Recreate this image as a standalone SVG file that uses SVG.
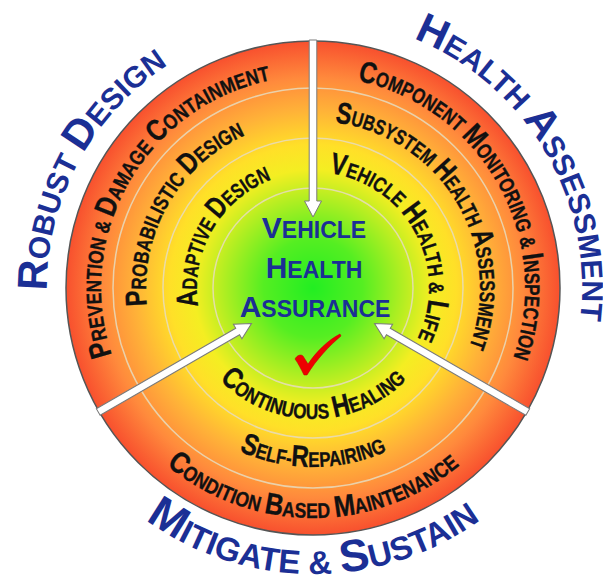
<svg xmlns="http://www.w3.org/2000/svg" width="603" height="583" viewBox="0 0 603 583">
<style>
.rt{font-family:"Liberation Sans",Arial,sans-serif;font-weight:bold;font-size:21px;fill:#111;stroke:#111;stroke-width:0.35}
.rt .b{font-size:30px}
.ol{font-family:"Liberation Sans",Arial,sans-serif;font-weight:bold;font-size:30px;fill:#1b2f95}
.ol .b{font-size:42px}
.ct{font-family:"Liberation Sans",Arial,sans-serif;font-weight:bold;font-size:23px;fill:#1b2f95;text-anchor:middle}
.ct .b{font-size:30px}
.ring{fill:none;stroke:#e6dcc0;stroke-width:1.5;opacity:0.85}
.arrow{fill:#fff;stroke:#7a7a7a;stroke-width:1}
</style>
<defs>
<radialGradient id="disc" cx="313" cy="288" r="247" gradientUnits="userSpaceOnUse">
<stop offset="0" stop-color="#22ee22"/>
<stop offset="0.2" stop-color="#55ee22"/>
<stop offset="0.38" stop-color="#bbee22"/>
<stop offset="0.48" stop-color="#f4ee22"/>
<stop offset="0.58" stop-color="#ffe028"/>
<stop offset="0.72" stop-color="#ffb238"/>
<stop offset="0.85" stop-color="#ff8a3c"/>
<stop offset="1" stop-color="#f8502e"/>
</radialGradient>
<path id="pL1" d="M129.4,394 A212,212 0 0 1 313,76"/>
<path id="pL2" d="M168.4,371.5 A167,167 0 0 1 313,121"/>
<path id="pL3" d="M212.5,346 A116,116 0 0 1 313,172"/>
<path id="pLo" d="M82.6,421 A266,266 0 0 1 313,22"/>
<path id="pR1" d="M313,76 A212,212 0 0 1 496.6,394"/>
<path id="pR2" d="M313,121 A167,167 0 0 1 457.6,371.5"/>
<path id="pR3" d="M313,172 A116,116 0 0 1 413.5,346"/>
<path id="pRo" d="M313,19 A269,269 0 0 1 546,422.5"/>
<path id="pB1" d="M113.8,403 A230,230 0 0 0 512.2,403"/>
<path id="pB2" d="M158,377.5 A179,179 0 0 0 468,377.5"/>
<path id="pB3" d="M199.6,353.5 A131,131 0 0 0 426.4,353.5"/>
<path id="pBo" d="M65.3,431 A286,286 0 0 0 560.7,431"/>
<path id="arr" d="M-3.8,-248 L3.8,-248 L3.8,-87 L8.5,-87 L0,-71 L-8.5,-87 L-3.8,-87 Z"/>
</defs>

<g id="disc-base">
<circle cx="313" cy="288" r="247" fill="url(#disc)" stroke="#555" stroke-width="1.5"/>
<circle class="ring" cx="313" cy="288" r="200"/>
<circle class="ring" cx="313" cy="288" r="150"/>
<circle class="ring" cx="313" cy="288" r="100"/>
</g>

<g id="connectors">
<use href="#arr" class="arrow" transform="translate(313,288)"/>
<use href="#arr" class="arrow" transform="translate(313,288) rotate(120)"/>
<use href="#arr" class="arrow" transform="translate(313,288) rotate(-120)"/>
</g>

<g id="hub">
<text class="ct" x="314" y="238"><tspan class="b">V</tspan>EHICLE</text>
<text class="ct" x="314" y="278"><tspan class="b">H</tspan>EALTH</text>
<text class="ct" x="315" y="317"><tspan class="b">A</tspan>SSURANCE</text>
<path d="M295,359 C297,355 301,354 303,356 L308,364 C316,352 328,340 340,334 L341,336 C330,345 316,360 307,375 L304,375 C301,369 298,363 295,359 Z" fill="#ee0000" stroke="#b00" stroke-width="0.5"/>
</g>

<g id="robust-design">
<text class="ol"><textPath href="#pLo" startOffset="48.5%" text-anchor="middle"><tspan class="b">R</tspan>OBUST <tspan class="b">D</tspan>ESIGN</textPath></text>
<text class="rt"><textPath href="#pL1" startOffset="50%" text-anchor="middle" textLength="358" lengthAdjust="spacingAndGlyphs"><tspan class="b">P</tspan>REVENTION &amp; <tspan class="b">D</tspan>AMAGE <tspan class="b">C</tspan>ONTAINMENT</textPath></text>
<text class="rt"><textPath href="#pL2" startOffset="50%" text-anchor="middle" textLength="210" lengthAdjust="spacingAndGlyphs"><tspan class="b">P</tspan>ROBABILISTIC <tspan class="b">D</tspan>ESIGN</textPath></text>
<text class="rt"><textPath href="#pL3" startOffset="50%" text-anchor="middle" textLength="158" lengthAdjust="spacingAndGlyphs"><tspan class="b">A</tspan>DAPTIVE <tspan class="b">D</tspan>ESIGN</textPath></text>
</g>

<g id="health-assessment">
<text class="ol"><textPath href="#pRo" startOffset="49.5%" text-anchor="middle"><tspan class="b">H</tspan>EALTH <tspan class="b">A</tspan>SSESSMENT</textPath></text>
<text class="rt"><textPath href="#pR1" startOffset="50.5%" text-anchor="middle" textLength="359" lengthAdjust="spacingAndGlyphs"><tspan class="b">C</tspan>OMPONENT <tspan class="b">M</tspan>ONITORING &amp; <tspan class="b">I</tspan>NSPECTION</textPath></text>
<text class="rt"><textPath href="#pR2" startOffset="49.2%" text-anchor="middle" textLength="300" lengthAdjust="spacingAndGlyphs"><tspan class="b">S</tspan>UBSYSTEM <tspan class="b">H</tspan>EALTH <tspan class="b">A</tspan>SSESSMENT</textPath></text>
<text class="rt"><textPath href="#pR3" startOffset="51.5%" text-anchor="middle" textLength="218" lengthAdjust="spacingAndGlyphs"><tspan class="b">V</tspan>EHICLE <tspan class="b">H</tspan>EALTH &amp; <tspan class="b">L</tspan>IFE</textPath></text>
</g>

<g id="mitigate-sustain">
<text class="ol" style="font-size:33px"><textPath href="#pBo" startOffset="50%" text-anchor="middle"><tspan class="b" style="font-size:45px">M</tspan>ITIGATE &amp; <tspan class="b" style="font-size:45px">S</tspan>USTAIN</textPath></text>
<text class="rt"><textPath href="#pB1" startOffset="50%" text-anchor="middle" textLength="318" lengthAdjust="spacingAndGlyphs"><tspan class="b">C</tspan>ONDITION <tspan class="b">B</tspan>ASED <tspan class="b">M</tspan>AINTENANCE</textPath></text>
<text class="rt"><textPath href="#pB2" startOffset="50%" text-anchor="middle" textLength="152" lengthAdjust="spacingAndGlyphs"><tspan class="b">S</tspan>ELF-<tspan class="b">R</tspan>EPAIRING</textPath></text>
<text class="rt"><textPath href="#pB3" startOffset="50%" text-anchor="middle" textLength="208" lengthAdjust="spacingAndGlyphs"><tspan class="b">C</tspan>ONTINUOUS <tspan class="b">H</tspan>EALING</textPath></text>
</g>
</svg>
